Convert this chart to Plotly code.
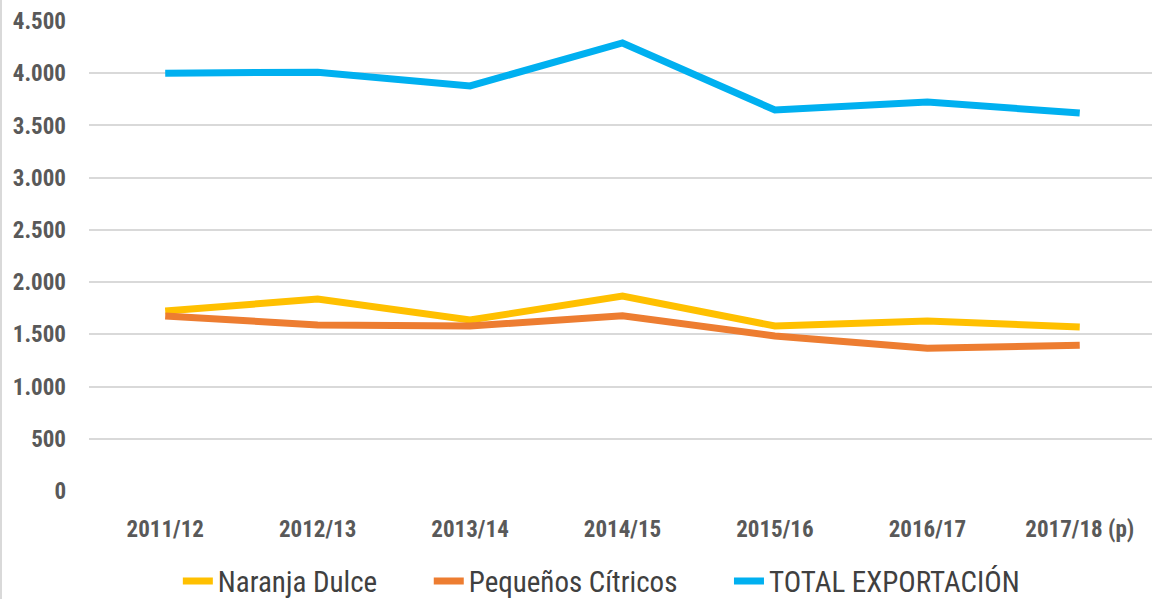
import plotly.graph_objects as go

categories = ["2011/12", "2012/13", "2013/14", "2014/15", "2015/16", "2016/17", "2017/18 (p)"]
naranja_dulce = [1723, 1838, 1637, 1867, 1580, 1628, 1570]
pequenos_citricos = [1676, 1589, 1580, 1678, 1484, 1366, 1395]
total_exportacion = [4000, 4010, 3878, 4290, 3648, 3725, 3619]
y_ticks = [0, 500, 1000, 1500, 2000, 2500, 3000, 3500, 4000, 4500]
y_tick_labels = ["0", "500", "1.000", "1.500", "2.000", "2.500", "3.000", "3.500", "4.000", "4.500"]

FONT = "Liberation Sans Narrow, Arial Narrow, Roboto Condensed, DejaVu Sans Condensed, sans-serif"

fig = go.Figure()
series = [
    ("Naranja Dulce", naranja_dulce, "#FFC000"),
    ("Pequeños Cítricos", pequenos_citricos, "#ED7D31"),
    ("TOTAL EXPORTACIÓN", total_exportacion, "#00B0F0"),
]
pad = "\u00a0" * 7
for i, (name, vals, col) in enumerate(series):
    fig.add_trace(go.Scatter(
        x=list(range(len(categories))), y=vals,
        name=name + (pad if i < len(series) - 1 else ""), mode="lines",
        line=dict(color=col, width=7), hoverinfo="skip",
    ))

fig.update_layout(
    width=1152, height=599,
    margin=dict(l=89, r=0, t=21, b=108, autoexpand=False),
    paper_bgcolor="white", plot_bgcolor="white",
    showlegend=True,
    legend=dict(
        orientation="h", xref="container", yref="container",
        x=0.522, xanchor="center", y=0.03, yanchor="middle",
        font=dict(family=FONT, size=29, color="#404040"),
        itemwidth=30, tracegroupgap=0,
    ),
    xaxis=dict(
        range=[-0.5, 6.474], automargin=False,
        tickmode="array", tickvals=list(range(len(categories))), ticktext=categories,
        showgrid=False, zeroline=False, showline=False, ticks="",
        tickfont=dict(family=FONT, size=23, color="#595959", weight="bold"),
        ticklabelstandoff=22,
    ),
    yaxis=dict(
        range=[0, 4500], automargin=False,
        tickmode="array", tickvals=y_ticks, ticktext=y_tick_labels,
        showgrid=True, gridcolor="#D9D9D9", gridwidth=1.5,
        zeroline=False, showline=False, ticks="",
        tickfont=dict(family=FONT, size=23, color="#595959", weight="bold"),
        ticklabelstandoff=22,
    ),
    shapes=[dict(type="line", xref="paper", yref="paper", x0=-88/1063, x1=-88/1063,
                 y0=-108/470, y1=1 + 21/470, line=dict(color="#D9D9D9", width=2))],
)

fig.write_html(
    "out.html",
    config={"displayModeBar": False},
    post_script="document.body.style.margin='0';document.body.style.overflow='hidden';",
)
